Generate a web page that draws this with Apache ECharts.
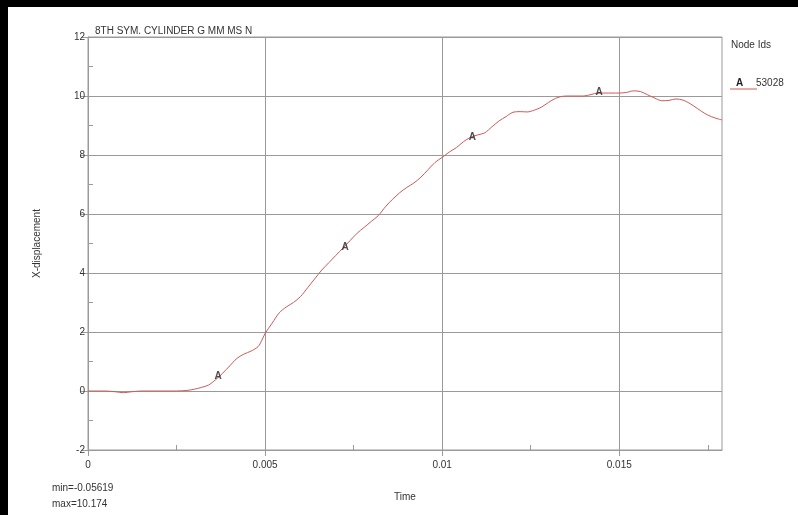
<!DOCTYPE html>
<html>
<head>
<meta charset="utf-8">
<script src="https://cdn.jsdelivr.net/npm/echarts@6/dist/echarts.min.js"></script>
<style>
  html, body { margin: 0; padding: 0; background: #fff; }
  #chart { width: 798px; height: 515px; }
</style>
</head>
<body>
<div id="chart"></div>
<script>
// Nodal X-displacement history for node 53028
const chartTitle = '8TH SYM. CYLINDER G MM MS N';
const nodeId = '53028';
const markerLetter = 'A';

const times = [
  0, 0.0005, 0.0008, 0.001, 0.0012, 0.0015, 0.002, 0.0025, 0.0028, 0.003,
  0.0032, 0.0034, 0.0036, 0.0038, 0.004, 0.0042, 0.0044, 0.0046, 0.0048, 0.0049,
  0.005, 0.0052, 0.0054, 0.0056, 0.0058, 0.006, 0.0062, 0.0064, 0.0066, 0.0068,
  0.007, 0.0072, 0.0074, 0.0076, 0.0078, 0.008, 0.0082, 0.0084, 0.0086, 0.0088,
  0.009, 0.0092, 0.0094, 0.0096, 0.0098, 0.01, 0.0102, 0.0104, 0.0106, 0.0108,
  0.011, 0.0112, 0.0114, 0.0116, 0.0118, 0.012, 0.0122, 0.0124, 0.0126, 0.0128,
  0.013, 0.0132, 0.0134, 0.0136, 0.0138, 0.014, 0.0142, 0.0144, 0.0146, 0.0148,
  0.015, 0.0152, 0.0154, 0.0156, 0.0158, 0.016, 0.0162, 0.0164, 0.0166, 0.0168,
  0.017, 0.0172, 0.0174, 0.0176, 0.0178, 0.0179
];
const xDisp = [
  0, 0, -0.03, -0.05619, -0.03, 0, 0, 0, 0.02, 0.06,
  0.12, 0.2, 0.38, 0.6, 0.85, 1.1, 1.25, 1.35, 1.5, 1.7,
  1.95, 2.3, 2.65, 2.85, 3.0, 3.2, 3.5, 3.8, 4.1, 4.35,
  4.6, 4.85, 5.1, 5.35, 5.55, 5.75, 5.95, 6.25, 6.5, 6.72,
  6.9, 7.05, 7.25, 7.5, 7.75, 7.92, 8.1, 8.25, 8.45, 8.6,
  8.68, 8.75, 8.95, 9.15, 9.3, 9.45, 9.47, 9.46, 9.52, 9.62,
  9.78, 9.92, 9.99, 10.0, 10.0, 10.0, 10.05, 10.1, 10.1, 10.1,
  10.1, 10.12, 10.174, 10.15, 10.04, 9.93, 9.84, 9.85, 9.9, 9.86,
  9.74, 9.58, 9.42, 9.3, 9.22, 9.19
];
// Symbol letters placed along the curve
const markerTimes = [0.00367, 0.00726, 0.01085, 0.01443];
const markerValues = [0.45, 4.85, 8.58, 10.1];

const xTicks = [0, 0.005, 0.01, 0.015];
const xMinorTicks = [0.0025, 0.0075, 0.0125, 0.0175];
const yMinorTicks = [-1, 1, 3, 5, 7, 9, 11];

const xMax = 0.0179;
const lineColor = '#cd5a57';
const gridColor = '#9a9a9a';
const textColor = '#333';
const font = 'Liberation Sans, Arial, sans-serif';

const minVal = Math.min(...xDisp);
const maxVal = Math.max(...xDisp);

const chart = echarts.init(document.getElementById('chart'), null, { renderer: 'canvas' });

const gridBox = { left: 88, top: 37, right: 76, bottom: 65 };
const labelStyle = { color: textColor, fontSize: 10, fontFamily: font };

chart.setOption({
  backgroundColor: '#fff',
  animation: false,
  grid: Object.assign({ show: true, borderColor: gridColor, borderWidth: 1, backgroundColor: 'transparent' }, gridBox),
  title: {
    text: chartTitle,
    left: 90, top: 21,
    textStyle: { fontSize: 10, fontWeight: 'normal', color: textColor, fontFamily: font }
  },
  xAxis: [
    {
      type: 'value', min: 0, max: xMax,
      name: 'Time', nameLocation: 'middle', nameGap: 42,
      nameTextStyle: labelStyle,
      axisLine: { show: true, onZero: false, lineStyle: { color: gridColor } },
      axisTick: { show: true, customValues: xTicks, length: 6, inside: false, lineStyle: { color: gridColor } },
      axisLabel: Object.assign({ customValues: xTicks, margin: 10, formatter: v => String(v) }, labelStyle),
      splitLine: { show: true, lineStyle: { color: gridColor, width: 1 } }
    },
    {
      type: 'value', min: 0, max: xMax, position: 'bottom',
      axisLine: { show: false, onZero: false },
      axisTick: { show: true, customValues: xMinorTicks, length: 5, inside: true, lineStyle: { color: gridColor } },
      axisLabel: { show: false },
      splitLine: { show: false }
    }
  ],
  yAxis: [
    {
      type: 'value', min: -2, max: 12, interval: 2,
      name: 'X-displacement', nameLocation: 'middle', nameGap: 46,
      nameTextStyle: labelStyle,
      axisLine: { show: true, onZero: false, lineStyle: { color: gridColor } },
      axisTick: { show: true, length: 7, inside: false, lineStyle: { color: gridColor } },
      axisLabel: Object.assign({ margin: 3 }, labelStyle),
      splitLine: { show: true, lineStyle: { color: gridColor, width: 1 } }
    },
    {
      type: 'value', min: -2, max: 12, position: 'left',
      axisLine: { show: false, onZero: false },
      axisTick: { show: true, customValues: yMinorTicks, length: 5, inside: true, lineStyle: { color: gridColor } },
      axisLabel: { show: false },
      splitLine: { show: false }
    }
  ],
  series: [
    {
      name: nodeId,
      type: 'line',
      data: times.map((t, i) => [t, xDisp[i]]),
      showSymbol: false,
      smooth: 0.3,
      lineStyle: { color: lineColor, width: 1 },
      z: 3
    },
    {
      name: nodeId + ' marks',
      type: 'scatter',
      data: markerTimes.map((t, i) => [t, markerValues[i]]),
      symbol: 'circle',
      symbolSize: 1,
      itemStyle: { color: 'rgba(0,0,0,0)' },
      label: {
        show: true, position: 'inside', offset: [0, -1],
        formatter: markerLetter,
        color: '#222', fontSize: 10, fontWeight: 'bold', fontFamily: font
      },
      z: 4
    }
  ],
  graphic: [
    // dark frame along the top and left edges
    { type: 'rect', left: 0, top: 0, shape: { width: 798, height: 7 }, style: { fill: '#000' }, z: 100 },
    { type: 'rect', left: 0, top: 0, shape: { width: 8, height: 515 }, style: { fill: '#000' }, z: 100 },
    // legend block
    { type: 'text', left: 731, top: 40, style: { text: 'Node Ids', fill: textColor, font: '10px ' + font } },
    { type: 'line', shape: { x1: 730, y1: 89, x2: 757, y2: 89 }, style: { stroke: lineColor, lineWidth: 1 } },
    { type: 'text', left: 736, top: 78, style: { text: markerLetter, fill: '#222', font: 'bold 10px ' + font } },
    { type: 'text', left: 756, top: 78, style: { text: nodeId, fill: textColor, font: '10px ' + font } },
    // extrema of the plotted series
    { type: 'text', left: 52, top: 483, style: { text: 'min=' + minVal, fill: textColor, font: '10px ' + font } },
    { type: 'text', left: 52, top: 499, style: { text: 'max=' + maxVal, fill: textColor, font: '10px ' + font } }
  ]
});
</script>
</body>
</html>
